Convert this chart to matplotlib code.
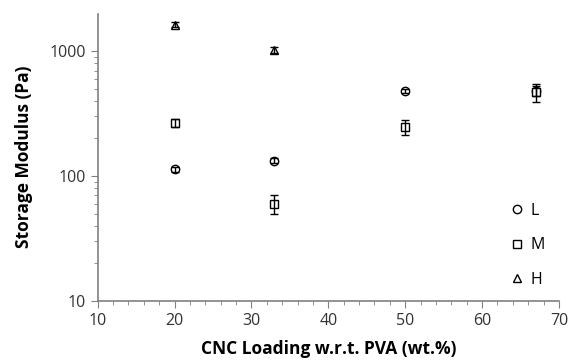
import matplotlib.pyplot as plt
import numpy as np

plt.rcParams['font.family'] = ['Open Sans', 'DejaVu Sans']

# === Daten ===
x_L = [20, 33, 50, 67]
y_L = [113, 133, 479, 480]
err_L = [5, 6, 20, 45]

x_M = [20, 33, 50, 67]
y_M = [267, 60, 247, 470]
err_M = [18, 10, 32, 75]

x_H = [20, 33]
y_H = [1636, 1027]
err_H = [70, 50]

fig = plt.figure(figsize=(5.68, 3.61), dpi=100)
ax = fig.add_axes([0.172, 0.167, 0.812, 0.795])

ms = 6
series = [(x_L, y_L, err_L, "o", "L"),
          (x_M, y_M, err_M, "s", "M"),
          (x_H, y_H, err_H, "^", "H")]

# Marker zuerst, Fehlerbalken darüber (wie im Original)
for xs, ys, es, m, lab in series:
    ax.plot(xs, ys, linestyle="none", marker=m, color="black", mfc="white",
            mew=1.0, markersize=ms, zorder=2, label=lab)
    ax.errorbar(xs, ys, yerr=es, fmt="none", ecolor="black", elinewidth=1.0,
                capsize=3, capthick=1.0, zorder=3)

ax.set_yscale("log")
ax.set_xlim(10, 70)
ax.set_ylim(10, 2000)
ax.set_xticks(np.arange(10, 71, 10))
ax.set_xticks(np.arange(10, 71, 2), minor=True)
ax.set_yticks([10, 100, 1000])
ax.set_yticklabels(["10", "100", "1000"])
ax.set_yticks([v * d for d in [10, 100, 1000] for v in range(2, 10) if v * d < 2000],
              minor=True)
ax.yaxis.set_minor_formatter(plt.NullFormatter())

for side in ["top", "right"]:
    ax.spines[side].set_visible(False)
for side in ["left", "bottom"]:
    ax.spines[side].set_color("#808080")
    ax.spines[side].set_linewidth(1.2)

ax.tick_params(axis="both", which="major", direction="out", length=5,
               color="#808080", labelsize=11.5, labelcolor="#333333")
ax.tick_params(axis="both", which="minor", direction="out", length=3,
               color="#808080")

ax.set_xlabel("CNC Loading w.r.t. PVA (wt.%)", fontsize=12.5, fontweight="bold",
              labelpad=8)
ax.set_ylabel("Storage Modulus (Pa)", fontsize=12.5, fontweight="bold",
              labelpad=12)

ax.legend(loc="lower right", frameon=False, fontsize=11.5, handletextpad=-0.2,
          labelspacing=1.15, bbox_to_anchor=(1.0, -0.005))

fig.savefig("out.png", dpi=100)
